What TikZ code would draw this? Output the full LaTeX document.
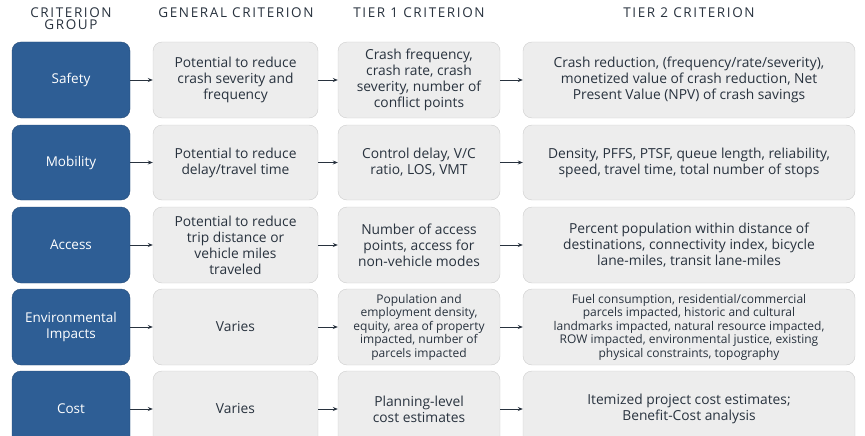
\documentclass[tikz,border=0pt]{standalone}
\usepackage{fontspec}
\setmainfont{Open Sans}
\newfontfamily\headfont[LetterSpace=12]{Open Sans}
\usetikzlibrary{arrows.meta}
\definecolor{grpblue}{RGB}{46,94,149}
\definecolor{boxgray}{RGB}{237,237,237}
\definecolor{boxline}{RGB}{205,205,205}
\definecolor{txt}{RGB}{40,50,62}
\tikzset{
  grp/.style={draw=grpblue!80!black, fill=grpblue, text=white, rounded corners=9, minimum width=118, align=center, font=\fontsize{13.5}{16}\selectfont, inner sep=0},
  crit/.style={draw=boxline, fill=boxgray, text=txt, rounded corners=9, align=center, font=\fontsize{13.8}{16}\selectfont, inner sep=0},
  hdr/.style={text=txt, align=center, font=\headfont\fontsize{13.5}{13}\selectfont, anchor=north},
  link/.style={-{Stealth[length=5pt,width=4pt]}, draw=txt, line width=0.7pt}
}
\begin{document}
\begin{tikzpicture}[x=1pt,y=-1pt]
        \useasboundingbox (0,0) rectangle (865,436);
        \clip (0,0) rectangle (865,436);

        % Header
        \node[hdr] (h0) at (71,4) {CRITERION\\[-1pt]GROUP};
        \node[hdr] (h1) at (236,4) {GENERAL CRITERION};
        \node[hdr] (h2) at (419,4) {TIER 1 CRITERION};
        \node[hdr] (h3) at (689,4) {TIER 2 CRITERION};

        % Row: Safety
        \node[grp, minimum height=76] (g1) at (71,80) {Safety};
        \node[crit, minimum width=165, minimum height=76] (a1) at (235.5,80) {Potential to reduce\\crash severity and\\frequency};
        \node[crit, minimum width=162, minimum height=76] (b1) at (419,80) {Crash frequency,\\crash rate, crash\\severity, number of\\conflict points};
        \node[crit, minimum width=332, minimum height=76] (c1) at (689,80) {Crash reduction, (frequency/rate/severity),\\monetized value of crash reduction, Net\\Present Value (NPV) of crash savings};
        % Row: Mobility
        \node[grp, minimum height=75] (g2) at (71,162.5) {Mobility};
        \node[crit, minimum width=165, minimum height=75] (a2) at (235.5,162.5) {Potential to reduce\\delay/travel time};
        \node[crit, minimum width=162, minimum height=75] (b2) at (419,162.5) {Control delay, V/C\\ratio, LOS, VMT};
        \node[crit, minimum width=332, minimum height=75] (c2) at (689,162.5) {Density, PFFS, PTSF, queue length, reliability,\\speed, travel time, total number of stops};
        % Row: Access
        \node[grp, minimum height=76] (g3) at (71,245) {Access};
        \node[crit, minimum width=165, minimum height=76] (a3) at (235.5,245) {Potential to reduce\\trip distance or\\vehicle miles\\traveled};
        \node[crit, minimum width=162, minimum height=76] (b3) at (419,245) {Number of access\\points, access for\\non-vehicle modes};
        \node[crit, minimum width=332, minimum height=76] (c3) at (689,245) {Percent population within distance of\\destinations, connectivity index, bicycle\\lane-miles, transit lane-miles};
        % Row: Environmental
        \node[grp, minimum height=76] (g4) at (71,327) {Environmental\\Impacts};
        \node[crit, minimum width=165, minimum height=76] (a4) at (235.5,327) {Varies};
        \node[crit, minimum width=162, minimum height=76, font=\fontsize{12}{13.5}\selectfont] (b4) at (419,327) {Population and\\employment density,\\equity, area of property\\impacted, number of\\parcels impacted};
        \node[crit, minimum width=332, minimum height=76, font=\fontsize{12}{13.5}\selectfont] (c4) at (689,327) {Fuel consumption, residential/commercial\\parcels impacted, historic and cultural\\landmarks impacted, natural resource impacted,\\ROW impacted, environmental justice, existing\\physical constraints, topography};
        % Row: Cost
        \node[grp, minimum height=76] (g5) at (71,409) {Cost};
        \node[crit, minimum width=165, minimum height=76] (a5) at (235.5,409) {Varies};
        \node[crit, minimum width=162, minimum height=76] (b5) at (419,409) {Planning-level\\cost estimates};
        \node[crit, minimum width=332, minimum height=76] (c5) at (689,409) {Itemized project cost estimates;\\Benefit-Cost analysis};

        \foreach \r in {1,...,5} {
          \draw[link] (g\r) -- (a\r);
          \draw[link] (a\r) -- (b\r);
          \draw[link] (b\r) -- (c\r);
        }
\end{tikzpicture}
\end{document}
